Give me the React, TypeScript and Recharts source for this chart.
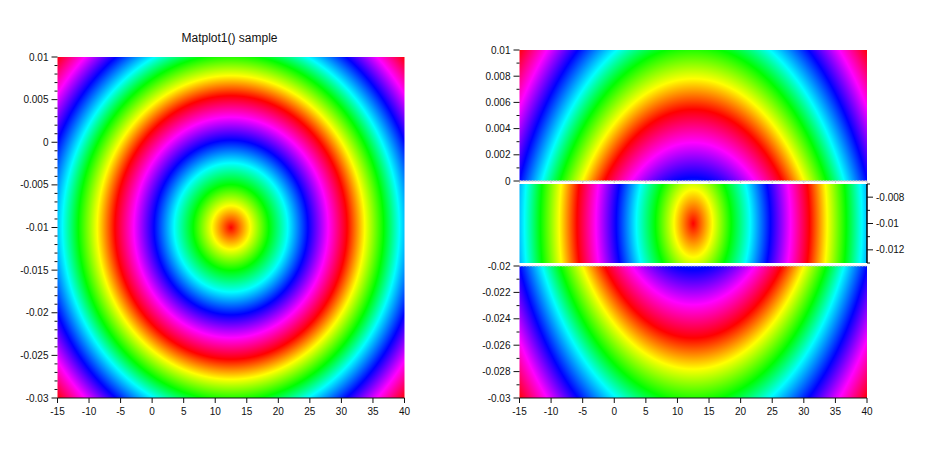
import { ComposedChart, ReferenceArea, ReferenceLine, XAxis, YAxis } from 'recharts'

// rings of the field, read along the row through the centre
const ringColours = ['#ff0000', '#ffff00', '#00ff00', '#00ffff', '#0000ff', '#ff00ff', '#ff0000', '#ffff00', '#00ff00', '#00ffff', '#0000ff', '#ff00ff', '#ff0000']
const ringRadiusX = [0, 3.05, 6.0, 9.0, 12.2, 15.4, 18.4, 21.2, 24.2, 26.7, 30.0, 33.2, 36.5]
const centreX = 12.5
const centreY = -0.01
const outerRadiusX = 40
const outerRadiusY = 0.0336

const xTicks = [-15, -10, -5, 0, 5, 10, 15, 20, 25, 30, 35, 40]

const leftTicks = [0.01, 0.009, 0.008, 0.007, 0.006, 0.005, 0.004, 0.003, 0.002, 0.001, 0, -0.001, -0.002, -0.003, -0.004, -0.005, -0.006, -0.007, -0.008, -0.009, -0.01, -0.011, -0.012, -0.013, -0.014, -0.015, -0.016, -0.017, -0.018, -0.019, -0.02, -0.021, -0.022, -0.023, -0.024, -0.025, -0.026, -0.027, -0.028, -0.029, -0.03]
const leftLabels = [0.01, 0.005, 0, -0.005, -0.01, -0.015, -0.02, -0.025, -0.03]

const topTicks = [0.01, 0.009, 0.008, 0.007, 0.006, 0.005, 0.004, 0.003, 0.002, 0.001, 0]
const topLabels = [0.01, 0.008, 0.006, 0.004, 0.002, 0]

const middleTicks = [-0.007, -0.008, -0.009, -0.01, -0.011, -0.012, -0.013]
const middleLabels = [-0.008, -0.01, -0.012]

const bottomTicks = [-0.02, -0.021, -0.022, -0.023, -0.024, -0.025, -0.026, -0.027, -0.028, -0.029, -0.03]
const bottomLabels = [-0.02, -0.022, -0.024, -0.026, -0.028, -0.03]

const font = '"Liberation Sans", Arial, sans-serif'
const ink = '#111'

function Field(props: any) {
  const { x, y, width, height, clipPath, gid } = props
  return (
    <g clipPath={clipPath}>
      <defs>
        <radialGradient id={gid} cx="50%" cy="50%" r="50%">
          {ringColours.map((c, i) => (
            <stop key={i} offset={ringRadiusX[i] / outerRadiusX} stopColor={c} />
          ))}
        </radialGradient>
      </defs>
      <rect x={x} y={y} width={width} height={height} fill={`url(#${gid})`} />
    </g>
  )
}

function YTick(props: any) {
  const { x, y, payload, labels, side } = props
  const major = labels.includes(payload.value)
  const dir = side === 'right' ? 1 : -1
  const len = major ? 6 : 3
  return (
    <g>
      <line x1={x} x2={x + dir * len} y1={y} y2={y} stroke={ink} strokeWidth={1} />
      {major && (
        <text x={x + dir * 9} y={y + 3.5} textAnchor={side === 'right' ? 'start' : 'end'} fontSize={10} fontFamily={font} fill={ink}>
          {payload.value}
        </text>
      )}
    </g>
  )
}

function XTick(props: any) {
  const { x, y, payload } = props
  return (
    <g>
      <line x1={x} x2={x} y1={y} y2={y + 5} stroke={ink} strokeWidth={1} />
      <text x={x} y={y + 17} textAnchor="middle" fontSize={10} fontFamily={font} fill={ink}>
        {payload.value}
      </text>
    </g>
  )
}

function Heat({ gid }: { gid: string }) {
  return (
    <ReferenceArea
      x1={centreX - outerRadiusX}
      x2={centreX + outerRadiusX}
      y1={centreY - outerRadiusY}
      y2={centreY + outerRadiusY}
      ifOverflow="hidden"
      shape={(p: any) => <Field {...p} gid={gid} />}
    />
  )
}

const panel = (left: number, top: number, w: number, h: number) => ({ position: 'absolute' as const, left, top, width: w, height: h })

export default function App() {
  return (
    <div style={{ position: 'absolute', left: 0, top: 0, width: 925, height: 455, background: '#fff' }}>
      {/* left plot */}
      <div style={panel(0, 0, 450, 440)}>
        <ComposedChart width={450} height={440} margin={{ top: 57, right: 45.5, bottom: 0, left: 0 }} data={[]}>
          <XAxis type="number" dataKey="x" domain={[-15, 40]} ticks={xTicks} interval={0} height={42} tickSize={0} tickMargin={0} tickLine={false} axisLine={{ stroke: ink }} tick={<XTick />} allowDataOverflow />
          <YAxis type="number" domain={[-0.03, 0.01]} ticks={leftTicks} interval={0} width={57.5} tickSize={0} tickMargin={0} tickLine={false} axisLine={false} tick={<YTick labels={leftLabels} side="left" />} allowDataOverflow />
          {Heat({ gid: 'heat-left' })}
          <text x={229.5} y={42} textAnchor="middle" fontSize={12} fontFamily={font} fill={ink}>
            Matplot1() sample
          </text>
        </ComposedChart>
      </div>

      {/* right plot, upper part */}
      <div style={panel(470, 0, 420, 186)}>
        <ComposedChart width={420} height={186} margin={{ top: 50, right: 23, bottom: 0, left: 0 }} data={[]}>
          <XAxis type="number" dataKey="x" domain={[-15, 40]} ticks={xTicks} interval={0} height={5} tickSize={2} tickFormatter={() => ''} tickLine={{ stroke: '#ccc' }} axisLine={{ stroke: '#ccc', strokeDasharray: '2 1' }} allowDataOverflow />
          <YAxis type="number" domain={[0, 0.01]} ticks={topTicks} interval={0} width={49.5} tickSize={0} tickMargin={0} tickLine={false} axisLine={false} tick={<YTick labels={topLabels} side="left" />} allowDataOverflow />
          {Heat({ gid: 'heat-top' })}
          <ReferenceLine y={0} stroke="#ccc" strokeDasharray="2 1" ifOverflow="visible" />
        </ComposedChart>
      </div>

      {/* right plot, zoomed middle part */}
      <div style={panel(470, 180, 455, 90)}>
        <ComposedChart width={455} height={90} margin={{ top: 4, right: 0, bottom: 7, left: 49.5 }} data={[]}>
          <XAxis type="number" dataKey="x" domain={[-15, 40]} hide allowDataOverflow />
          <YAxis type="number" orientation="right" domain={[-0.013, -0.007]} ticks={middleTicks} interval={0} width={58} tickSize={0} tickMargin={0} tickLine={false} axisLine={{ stroke: '#000', strokeWidth: 1.5 }} tick={<YTick labels={middleLabels} side="right" />} allowDataOverflow />
          {Heat({ gid: 'heat-middle' })}
        </ComposedChart>
      </div>

      {/* right plot, lower part */}
      <div style={panel(470, 262, 420, 178)}>
        <ComposedChart width={420} height={178} margin={{ top: 4, right: 23, bottom: 0, left: 0 }} data={[]}>
          <XAxis type="number" dataKey="x" domain={[-15, 40]} ticks={xTicks} interval={0} height={42} tickSize={0} tickMargin={0} tickLine={false} axisLine={{ stroke: ink }} tick={<XTick />} allowDataOverflow />
          <YAxis type="number" domain={[-0.03, -0.02]} ticks={bottomTicks} interval={0} width={49.5} tickSize={0} tickMargin={0} tickLine={false} axisLine={false} tick={<YTick labels={bottomLabels} side="left" />} allowDataOverflow />
          {Heat({ gid: 'heat-bottom' })}
          <ReferenceLine y={-0.02} stroke="#ccc" strokeDasharray="2 1" ifOverflow="visible" />
        </ComposedChart>
      </div>
    </div>
  )
}
